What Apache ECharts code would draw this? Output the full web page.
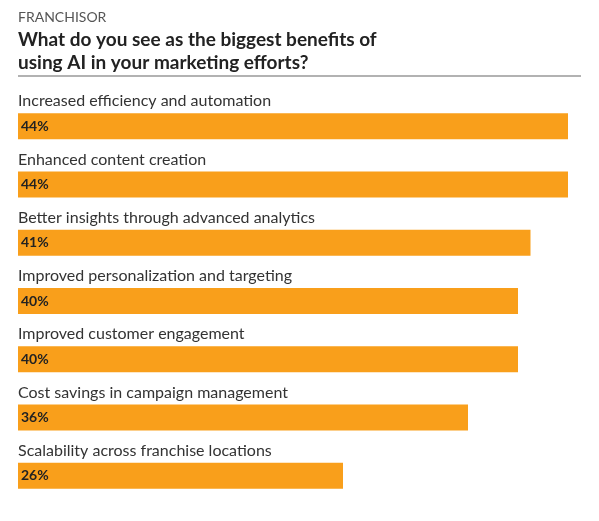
<!DOCTYPE html>
<html><head><meta charset="utf-8">
<script src="https://cdn.jsdelivr.net/npm/echarts@6/dist/echarts.min.js"></script>
<style>html,body{margin:0;padding:0;background:#fff}#c{width:599px;height:521px}</style>
</head><body><div id="c"></div>
<script>
const categories = ["Increased efficiency and automation","Enhanced content creation","Better insights through advanced analytics","Improved personalization and targeting","Improved customer engagement","Cost savings in campaign management","Scalability across franchise locations"];
const values = [44,44,41,40,40,36,26];
const chart = echarts.init(document.getElementById('c'));
const ff = 'Lato';
chart.setOption({
  animation:false,
  graphic:[
    {type:'text',left:18,top:10,style:{text:'FRANCHISOR',fontFamily:ff,fontSize:14,fill:'#555'}},
    {type:'text',left:18,top:28,style:{text:'What do you see as the biggest benefits of\nusing AI in your marketing efforts?',fontFamily:ff,fontSize:19,fontWeight:'bold',fill:'#222',lineHeight:23}},
    {type:'line',shape:{x1:18,y1:76,x2:581,y2:76},style:{stroke:'#999',lineWidth:1.5}}
  ],
  grid:{left:18,top:97,width:550,height:408},
  xAxis:{type:'value',min:0,max:44,show:false},
  yAxis:{type:'category',data:categories,inverse:true,show:false},
  series:[
    {type:'bar',data:values,barWidth:26,itemStyle:{color:'#F99F1B'},
     label:{show:true,position:'insideLeft',offset:[-2,0],formatter:p=>p.value+'%',fontFamily:ff,fontSize:14,fontWeight:'bold',color:'#222'}},
    {type:'bar',data:values.map(()=>44),barWidth:26,barGap:'-100%',itemStyle:{color:'rgba(0,0,0,0)'},silent:true,
     label:{show:true,position:'insideTopLeft',offset:[-5,-25],formatter:p=>categories[p.dataIndex],fontFamily:ff,fontSize:16,color:'#333'}}
  ]
});
</script></body></html>
